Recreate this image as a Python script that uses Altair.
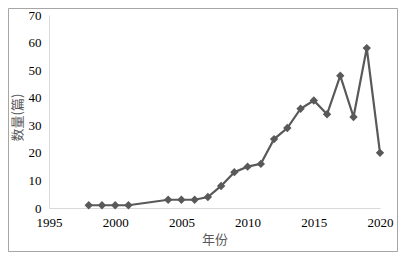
import altair as alt
import pandas as pd

years = [1998, 1999, 2000, 2001, 2004, 2005, 2006, 2007, 2008, 2009, 2010,
         2011, 2012, 2013, 2014, 2015, 2016, 2017, 2018, 2019, 2020]
counts = [1, 1, 1, 1, 3, 3, 3, 4, 8, 13, 15, 16, 25, 29, 36, 39, 34, 48, 33, 58, 20]
x_ticks = [1995, 2000, 2005, 2010, 2015, 2020]
y_ticks = [0, 10, 20, 30, 40, 50, 60, 70]

df = pd.DataFrame({"year": years, "count": counts})

W, H = 331, 193
LINE = "#595959"

x = alt.X("year:Q", scale=alt.Scale(domain=[1995, 2020], nice=False, zero=False),
          axis=alt.Axis(values=x_ticks, format="d", title="年份", grid=False, ticks=False,
                        domainColor="#d9d9d9", labelFont="Liberation Serif", labelFontSize=13,
                        labelColor="#000000", labelPadding=8, labelFlush=False,
                        titleFont="Noto Sans CJK SC", titleFontSize=13, titleFontWeight="normal",
                        titleColor="#595959", titlePadding=4))
y = alt.Y("count:Q", scale=alt.Scale(domain=[0, 70], nice=False),
          axis=alt.Axis(values=y_ticks, title="数量(篇)", grid=False, ticks=False,
                        domainColor="#d9d9d9", labelFont="Liberation Serif", labelFontSize=13,
                        labelColor="#000000", labelPadding=8,
                        titleFont="Noto Sans CJK SC", titleFontSize=13, titleFontWeight="normal",
                        titleColor="#595959", titleX=-25, titleY=102))

line = alt.Chart(df).mark_line(color=LINE, strokeWidth=2.2).encode(x=x, y=y)
pts = alt.Chart(df).mark_point(shape="diamond", filled=True, color=LINE, size=70, opacity=1).encode(x=x, y=y)

border = alt.Chart(pd.DataFrame({"a": [0]})).mark_rect(
    fill=None, stroke="#a6a6a6", strokeWidth=1, clip=False
).encode(x=alt.value(-40.5), x2=alt.value(348.5), y=alt.value(-6.5), y2=alt.value(236.5))

chart = alt.layer(border, line, pts).properties(
    width=W, height=H,
    autosize=alt.AutoSizeParams(type="none"),
    padding={"left": 41, "top": 7, "right": 18, "bottom": 44},
).configure_view(stroke=None)

chart.save("out.html", embed_options={"renderer": "svg", "actions": False})
